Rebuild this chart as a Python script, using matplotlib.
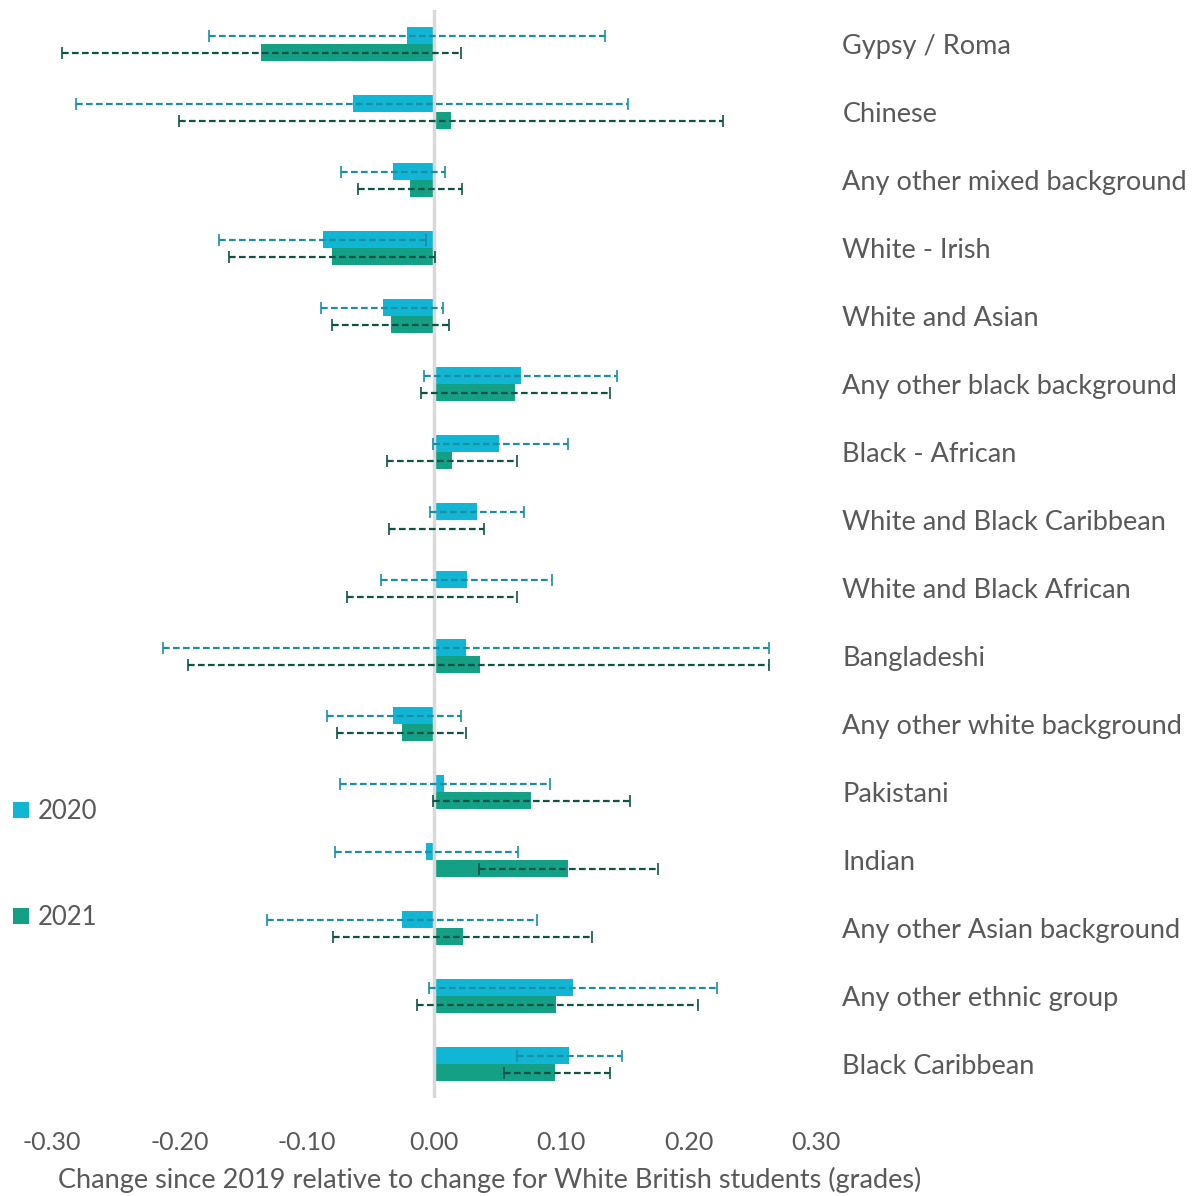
import matplotlib.pyplot as plt
import numpy as np

plt.rcParams['font.family'] = ['Lato', 'DejaVu Sans']

groups = ['Gypsy / Roma', 'Chinese', 'Any other mixed background', 'White - Irish',
          'White and Asian', 'Any other black background', 'Black - African',
          'White and Black Caribbean', 'White and Black African', 'Bangladeshi',
          'Any other white background', 'Pakistani', 'Indian',
          'Any other Asian background', 'Any other ethnic group', 'Black Caribbean']

# point estimates
est_2020 = [-0.021, -0.064, -0.032, -0.087, -0.040, 0.068, 0.051, 0.034,
            0.026, 0.025, -0.032, 0.008, -0.006, -0.025, 0.109, 0.106]
est_2021 = [-0.136, 0.013, -0.019, -0.080, -0.034, 0.064, 0.014, 0.001,
            0.000, 0.036, -0.025, 0.076, 0.105, 0.023, 0.096, 0.095]

# confidence interval bounds
lo_2020 = [-0.177, -0.281, -0.073, -0.169, -0.089, -0.008, -0.001, -0.003,
           -0.042, -0.213, -0.084, -0.074, -0.078, -0.131, -0.004, 0.065]
hi_2020 = [0.134, 0.152, 0.009, -0.006, 0.007, 0.144, 0.105, 0.071,
           0.093, 0.263, 0.021, 0.091, 0.066, 0.081, 0.222, 0.148]
lo_2021 = [-0.292, -0.200, -0.060, -0.161, -0.080, -0.010, -0.037, -0.035,
           -0.068, -0.193, -0.076, -0.001, 0.035, -0.079, -0.013, 0.055]
hi_2021 = [0.021, 0.227, 0.022, 0.001, 0.012, 0.138, 0.065, 0.039,
           0.065, 0.263, 0.025, 0.154, 0.176, 0.124, 0.207, 0.138]

years = ['2020', '2021']
bar_colors = ['#10B6D4', '#13A085']
err_colors = ['#1A8EA5', '#0E5446']
text_color = '#595959'

fig = plt.figure(figsize=(11.95, 11.96), dpi=100)
ax = fig.add_axes([52 / 1195, 1 - 1098 / 1196, 764 / 1195, 1088 / 1196])

y = np.arange(len(groups))
h = 0.25
series = [(est_2020, lo_2020, hi_2020), (est_2021, lo_2021, hi_2021)]
for k, (est, lo, hi) in enumerate(series):
    est = np.array(est)
    yy = y - h / 2 if k == 0 else y + h / 2
    ax.barh(yy, est, height=h, color=bar_colors[k], label=years[k], zorder=2)
    xerr = np.vstack([est - np.array(lo), np.array(hi) - est])
    eb = ax.errorbar(est, yy, xerr=xerr, fmt='none', ecolor=err_colors[k],
                     elinewidth=1.6, capsize=4.5, capthick=1.2, zorder=4)
    eb[2][0].set_linestyle((0, (3, 1.5)))

ax.axvline(0, color='#D9D9D9', lw=2.5, zorder=3)

ax.set_xlim(-0.30, 0.30)
ax.set_ylim(len(groups) - 0.5, -0.5)
ax.set_xticks(np.arange(-0.3, 0.31, 0.1))
ax.set_xticklabels(['%.2f' % v for v in np.arange(-0.3, 0.31, 0.1)])
ax.yaxis.tick_right()
ax.set_yticks(y)
ax.set_yticklabels(groups)
ax.tick_params(axis='both', length=0, colors=text_color)
ax.tick_params(axis='x', pad=24, labelsize=18)
ax.tick_params(axis='y', pad=19, labelsize=19.5)
for s in ax.spines.values():
    s.set_visible(False)

fig.text(490 / 1195, 1 - 1180 / 1196,
         'Change since 2019 relative to change for White British students (grades)',
         ha='center', va='center', fontsize=19.5, color=text_color)

handles, labels = ax.get_legend_handles_labels()
fig.legend(handles, labels, loc='upper left', bbox_to_anchor=(-0.004, 1 - 781 / 1196),
           frameon=False, fontsize=18.5, labelcolor=text_color, handlelength=0.6,
           handleheight=0.6, handletextpad=0.35, labelspacing=3.15, borderpad=0.2)

fig.savefig('out.png', dpi=100)
